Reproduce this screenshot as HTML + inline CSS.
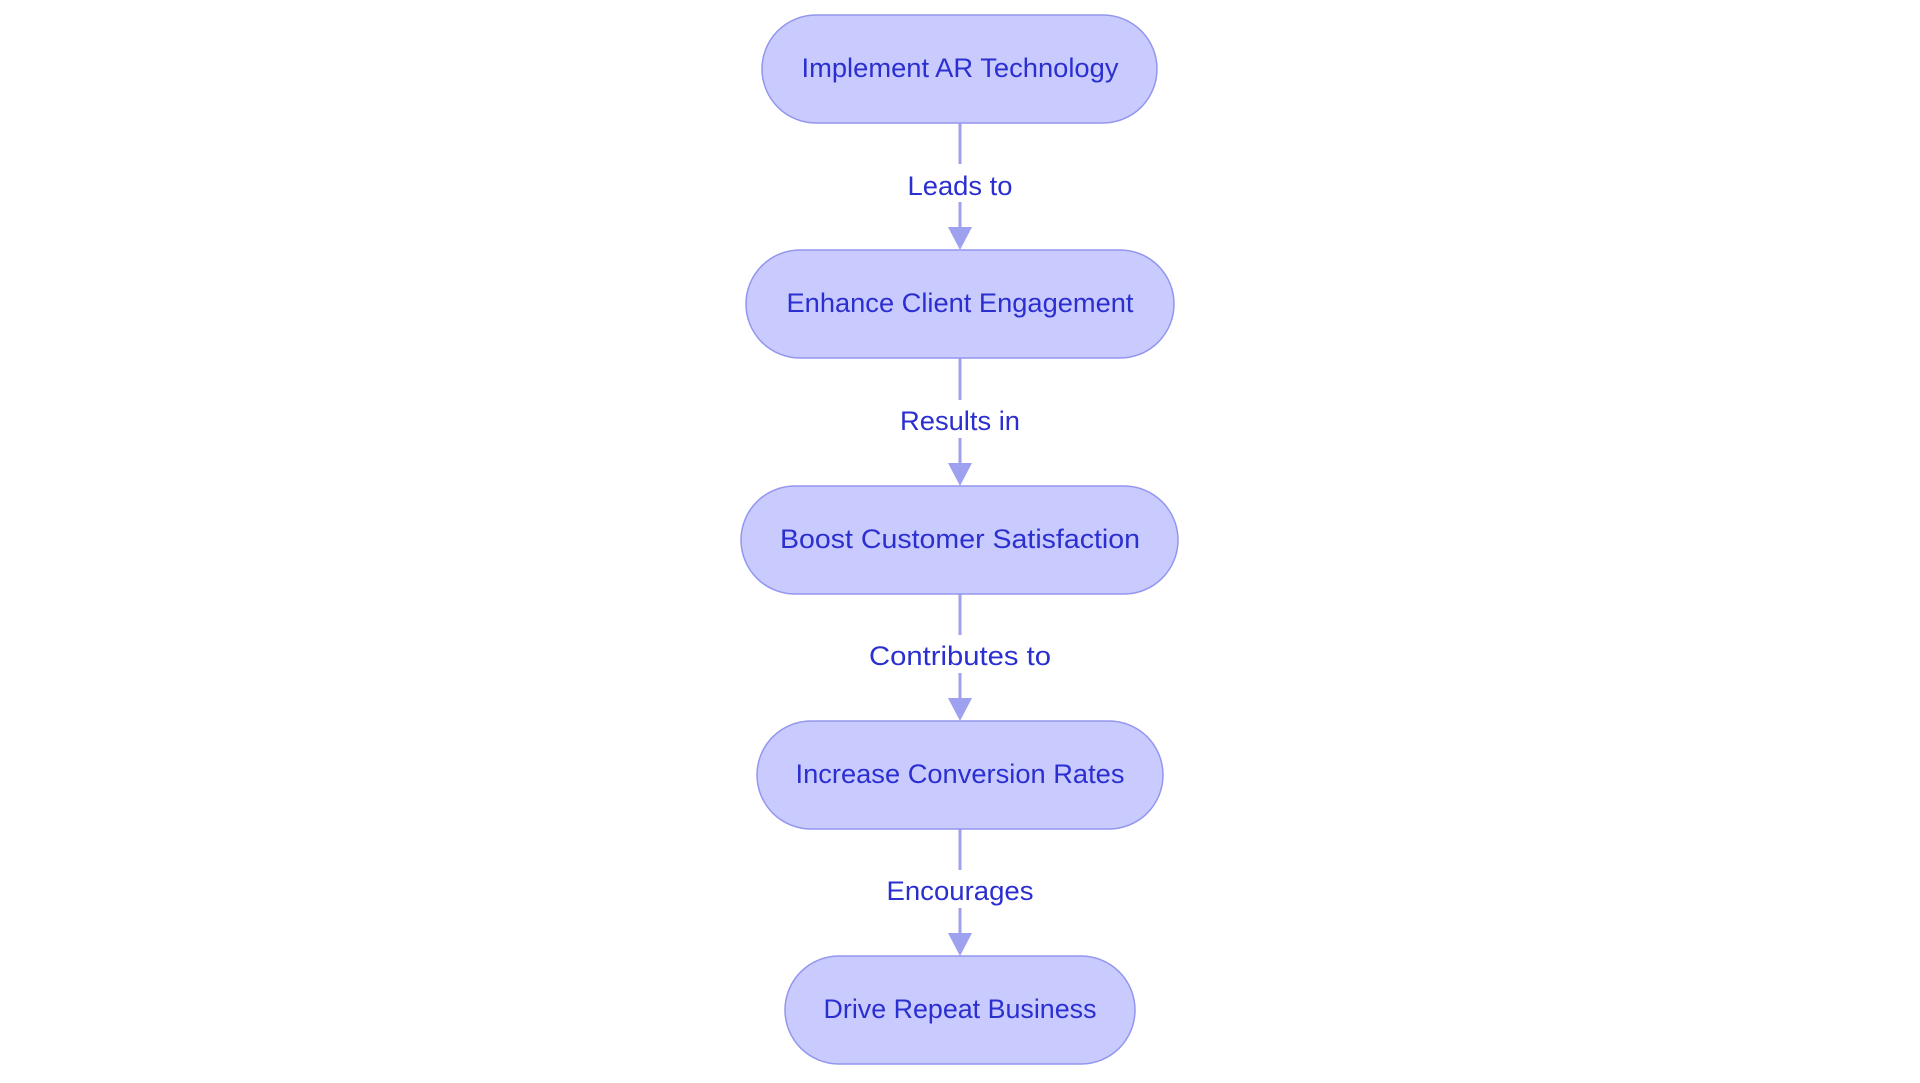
<!DOCTYPE html>
<html><head><meta charset="utf-8"><style>html,body{margin:0;padding:0;background:#fff;width:1920px;height:1083px;overflow:hidden}</style></head>
<body>
<svg width="1920" height="1083" xmlns="http://www.w3.org/2000/svg" font-family="Liberation Sans, sans-serif">
<g stroke="#9ea1f0" stroke-width="3" fill="none">
<line x1="960" y1="123" x2="960" y2="230"/>
<line x1="960" y1="358" x2="960" y2="465"/>
<line x1="960" y1="594" x2="960" y2="700"/>
<line x1="960" y1="829" x2="960" y2="935"/>
</g>
<g fill="#9ea1f0">
<polygon points="948,227 972,227 960,250"/>
<polygon points="948,463 972,463 960,486"/>
<polygon points="948,698 972,698 960,721"/>
<polygon points="948,933 972,933 960,956"/>
</g>
<g fill="#fff">
<rect x="903" y="164" width="114" height="38"/>
<rect x="896" y="400" width="128" height="38"/>
<rect x="865" y="635" width="190" height="38"/>
<rect x="883" y="870" width="154" height="38"/>
</g>
<g fill="#c9cbff" stroke="#9396ee" stroke-width="1.5">
<rect x="762" y="15" width="395" height="108" rx="54"/>
<rect x="746" y="250" width="428" height="108" rx="54"/>
<rect x="741" y="486" width="437" height="108" rx="54"/>
<rect x="757" y="721" width="406" height="108" rx="54"/>
<rect x="785" y="956" width="350" height="108" rx="54"/>
</g>
<g fill="#2b2fcf" font-size="27" text-anchor="middle">
<text x="960" y="77" textLength="317" lengthAdjust="spacingAndGlyphs">Implement AR Technology</text>
<text x="960" y="312" textLength="347" lengthAdjust="spacingAndGlyphs">Enhance Client Engagement</text>
<text x="960" y="548" textLength="360" lengthAdjust="spacingAndGlyphs">Boost Customer Satisfaction</text>
<text x="960" y="783" textLength="329" lengthAdjust="spacingAndGlyphs">Increase Conversion Rates</text>
<text x="960" y="1018" textLength="273" lengthAdjust="spacingAndGlyphs">Drive Repeat Business</text>
<text x="960" y="195" textLength="105" lengthAdjust="spacingAndGlyphs">Leads to</text>
<text x="960" y="430" textLength="120" lengthAdjust="spacingAndGlyphs">Results in</text>
<text x="960" y="665" textLength="182" lengthAdjust="spacingAndGlyphs">Contributes to</text>
<text x="960" y="900" textLength="147" lengthAdjust="spacingAndGlyphs">Encourages</text>
</g>
</svg>
</body></html>
